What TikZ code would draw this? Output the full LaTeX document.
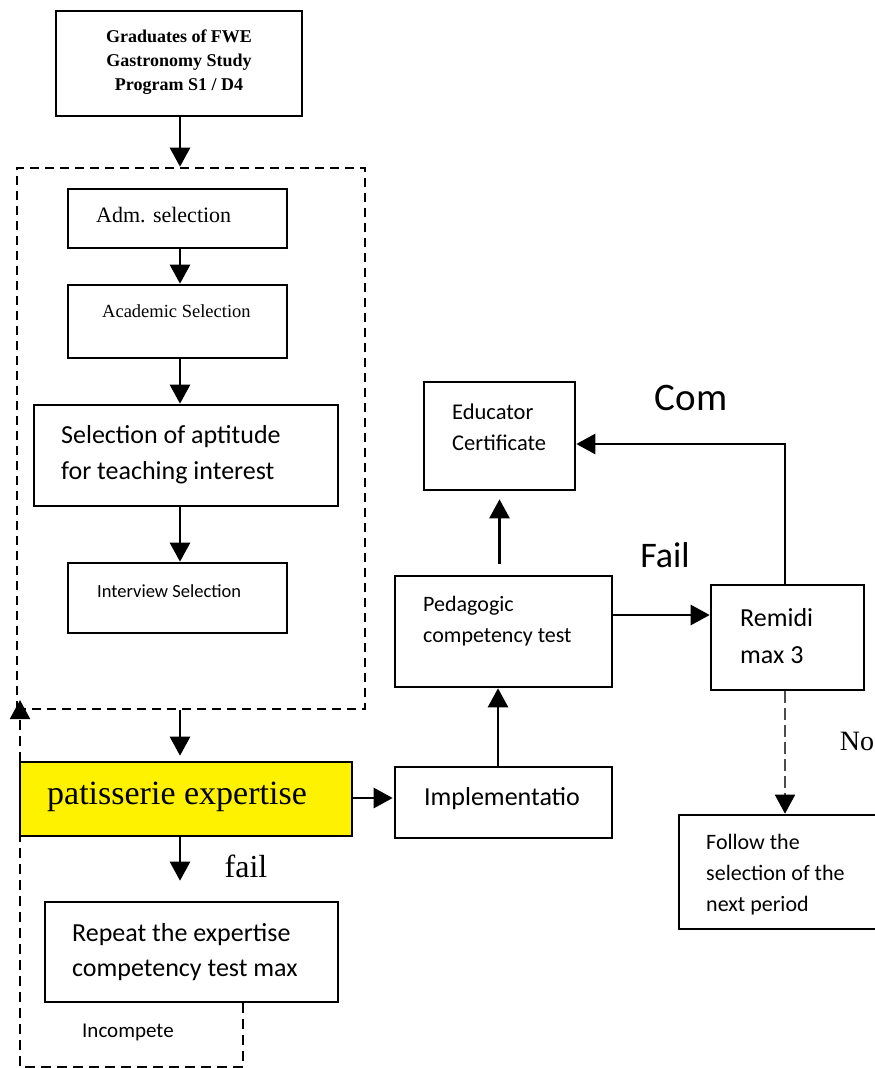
\documentclass[tikz,border=0pt]{standalone}
\usepackage{fontspec}
\setmainfont{Liberation Serif}
\newfontfamily\calfont{Carlito}
\usetikzlibrary{arrows.meta}
\begin{document}
\begin{tikzpicture}[x=1pt,y=-1pt,
  box/.style={draw, line width=2.6pt, inner sep=0pt},
  arr/.style={line width=2.6pt, -{Triangle[length=19pt,width=20pt]}},
  dbox/.style={draw, line width=2.6pt, dash pattern=on 9pt off 6pt},
  dret/.style={line width=2pt, dash pattern=on 10pt off 6pt, -{Triangle[length=19pt,width=20pt]}},
  dthin/.style={line width=1.6pt, draw=black!70, dash pattern=on 12pt off 5pt, -{Triangle[length=19pt,width=20pt,fill=black,color=black]}},
  txt/.style={inner sep=0pt, align=left},
  cal/.style 2 args={txt, font=\calfont\fontsize{#1}{#2}\selectfont}
]
\useasboundingbox (0,0) rectangle (875,1068);
\fill[white] (0,0) rectangle (875,1068);

% boxes
\node[box, minimum width=246pt, minimum height=105pt] (top) at (179,63.5) {};
\node[dbox, minimum width=348pt, minimum height=541pt] (dash) at (191,438.5) {};
\node[box, minimum width=219pt, minimum height=59pt] (adm) at (177.5,218.5) {};
\node[box, minimum width=219pt, minimum height=73pt] (acad) at (177.5,321.5) {};
\node[box, minimum width=304pt, minimum height=101pt] (apt) at (186,455.5) {};
\node[box, minimum width=219pt, minimum height=70pt] (intv) at (177.5,598) {};
\node[box, fill=yellow, minimum width=332pt, minimum height=74pt] (pat) at (186,799) {};
\node[box, minimum width=293pt, minimum height=100pt] (rep) at (191.5,952) {};
\node[box, minimum width=217pt, minimum height=71pt] (impl) at (503.5,802.5) {};
\node[box, minimum width=217pt, minimum height=111pt] (ped) at (503.5,631.5) {};
\node[box, minimum width=151pt, minimum height=108pt] (edu) at (499.5,436) {};
\node[box, minimum width=153pt, minimum height=105pt] (rem) at (787.5,637.5) {};
\node[box, minimum width=200pt, minimum height=114pt] (fol) at (779,872) {};

% texts
\node[txt, align=center, font=\bfseries\fontsize{18}{24}\selectfont] (toptxt) at (179,62) {Graduates of FWE\\Gastronomy Study\\Program S1 / D4};
\node[txt, anchor=west, font=\fontsize{22}{24}\selectfont] (admtxt) at (96,215) {Adm. selection};
\node[txt, anchor=west, font=\fontsize{18.5}{20}\selectfont] (acadtxt) at (102,311) {Academic Selection};
\node[cal={26}{36}, anchor=west] (apttxt) at (61,455) {Selection of aptitude\\for teaching interest};
\node[cal={18.5}{20}, anchor=west] (intvtxt) at (97,591) {Interview Selection};
\node[txt, anchor=west, font=\fontsize{34}{36}\selectfont] (pattxt) at (47,797) {patisserie expertise};
\node[txt, font=\fontsize{32}{36}\selectfont] (failtxt) at (246,866) {fail};
\node[cal={26}{35}, anchor=west] (reptxt) at (72,952) {Repeat the expertise\\competency test max};
\node[cal={21}{24}, anchor=west] (inctxt) at (82,1032) {Incompete};
\node[cal={26}{28}] (impltxt) at (502,799) {Implementatio};
\node[cal={22}{31}, anchor=west] (pedtxt) at (423,621) {Pedagogic\\competency test};
\node[cal={22.5}{31}, anchor=west] (edutxt) at (452,427) {Educator\\Certificate};
\node[cal={39}{40}] (comtxt) at (691,398) {Com};
\node[cal={36}{38}] (Failtxt) at (665,555) {Fail};
\node[cal={26}{37}, anchor=west] (remtxt) at (740,636) {Remidi\\max 3};
\node[txt, font=\fontsize{28}{32}\selectfont] (notxt) at (857,741) {No};
\node[cal={22}{31}, anchor=west] (foltxt) at (706,875) {Follow the\\selection of the\\next period};

% connectors
\coordinate (ret) at (20,700);
\draw[arr] ([xshift=1pt]top.south) -- ([xshift=1pt]top.south |- dash.north);
\draw[arr] ([xshift=2.5pt]adm.south) -- ([xshift=2.5pt]acad.north);
\draw[arr] ([xshift=2.5pt]acad.south) -- ([xshift=2.5pt]acad.south |- apt.north);
\draw[arr] ([xshift=2.5pt]intv.north |- apt.south) -- ([xshift=2.5pt]intv.north);
\draw[arr, shorten >=5pt] ([xshift=2.5pt]intv.south |- dash.south) -- ([xshift=2.5pt]intv.south |- pat.north);
\draw[arr, shorten >=1pt] ([yshift=1pt]pat.east) -- ([yshift=1pt]pat.east -| impl.west);
\draw[arr] ([xshift=-5.5pt]impl.north) -- ([xshift=-5.5pt]ped.south);
\draw[arr, shorten <=11pt, shorten >=8pt] (edu.south |- ped.north) -- (edu.south);
\draw[arr] ([yshift=16.5pt]ped.east) -- ([yshift=16.5pt]ped.east -| rem.west);
\draw[arr] ([xshift=-2.5pt]rem.north) |- ([yshift=-8pt]edu.east);
\draw[dthin] ([xshift=-2.5pt]rem.south) -- ([xshift=-2.5pt]rem.south |- fol.north);
\draw[arr, shorten >=20pt] ([xshift=-6pt]pat.south) -- ([xshift=-6pt]pat.south |- rep.north);
\draw[dret] ([xshift=51.5pt]rep.south) -- ++(0,64) -| (ret);
\end{tikzpicture}
\end{document}
